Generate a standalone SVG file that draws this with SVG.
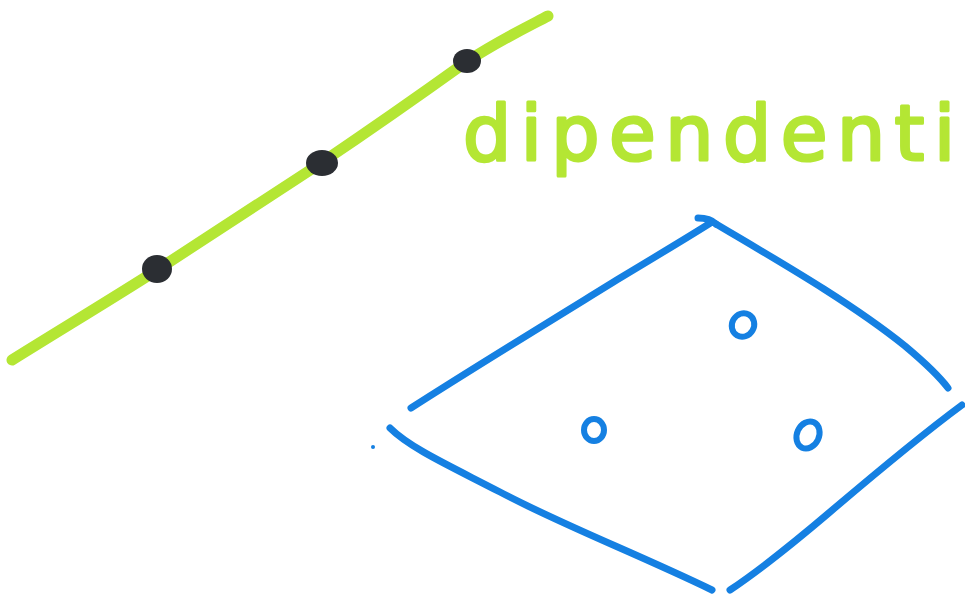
<svg xmlns="http://www.w3.org/2000/svg" width="965" height="598" viewBox="0 0 965 598">
<style>
.green{fill:none;stroke:#b4e634;stroke-width:11;stroke-linecap:round;stroke-linejoin:round}
.blue{fill:none;stroke:#1580e2;stroke-width:7;stroke-linecap:round;stroke-linejoin:round}
.ring{fill:none;stroke:#1580e2;stroke-width:6}
.dot{fill:#2b2e33}
.label{font-family:"DejaVu Sans","Liberation Sans",sans-serif;font-size:76px;fill:#b4e634;stroke:#b4e634;stroke-width:3;stroke-linejoin:round}
</style>
<rect width="965" height="598" fill="#ffffff"/>
<g id="line">
<path class="green" d="M12,360 C60,330 110,300 157,270 C210,236 265,200 321,163 C370,130 420,95 466,62 C500,40 525,28 548,16"/>
<ellipse class="dot" cx="157" cy="269" rx="15" ry="14"/>
<ellipse class="dot" cx="322" cy="163" rx="16" ry="13"/>
<ellipse class="dot" cx="467" cy="61" rx="14" ry="12"/>
</g>
<g id="label">
<text class="label" x="463" y="160" textLength="492" lengthAdjust="spacing">dipendenti</text>
</g>
<g id="plane">
<path class="blue" d="M411,408 C470,370 560,315 620,278 C660,254 690,236 712,222 M698,218 Q710,218 716,224"/>
<path class="blue" d="M716,224 C780,262 850,302 905,346 Q936,372 948,388"/>
<path class="blue" d="M962,405 C920,436 870,478 830,512 C790,546 760,570 730,590"/>
<path class="blue" d="M390,428 C410,448 450,466 500,492 C560,524 640,555 712,590"/>
<circle cx="373" cy="447" r="2" fill="#1580e2"/>
<ellipse class="ring" cx="743" cy="325" rx="11" ry="12" transform="rotate(30 743 325)"/>
<ellipse class="ring" cx="594" cy="430" rx="10" ry="11"/>
<ellipse class="ring" cx="808" cy="435" rx="11" ry="14" transform="rotate(25 808 435)"/>
</g>
</svg>
